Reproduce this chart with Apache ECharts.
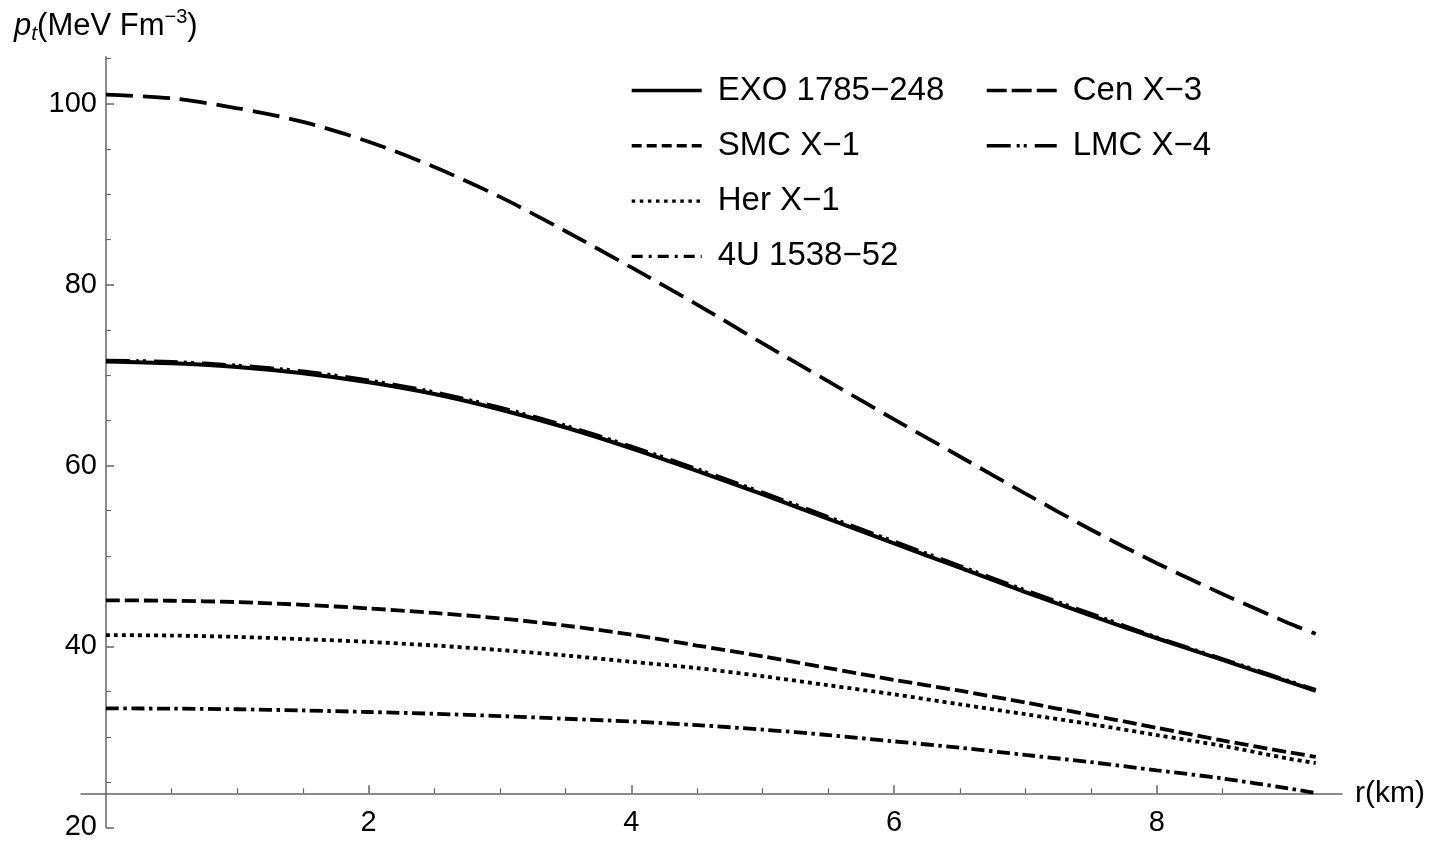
<!DOCTYPE html>
<html>
<head>
<meta charset="utf-8">
<title>p_t vs r</title>
<script src="https://cdn.jsdelivr.net/npm/echarts@6/dist/echarts.min.js"></script>
<style>
  html, body { margin: 0; padding: 0; background: #fff; }
  #main { width: 1439px; height: 848px; }
</style>
</head>
<body>
<div id="main"></div>
<script>
  // radial coordinate r (km)
  const radius = [0, 0.5, 1, 1.5, 2, 2.5, 3, 3.5, 4, 4.5, 5, 5.5, 6, 6.5, 7, 7.5, 8, 8.5, 9, 9.21];

  // transverse pressure p_t (MeV Fm^-3)
  const exo = [71.5, 71.3, 70.9, 70.2, 69.2, 67.9, 66.2, 64.2, 61.9, 59.4, 56.8, 54.1, 51.4, 48.7, 46.0, 43.4, 40.9, 38.5, 36.1, 35.1];
  const cen = [101.0, 100.6, 99.5, 98.0, 95.8, 93.0, 89.7, 85.9, 81.9, 77.8, 73.5, 69.3, 65.1, 61.0, 56.9, 52.9, 49.2, 45.8, 42.6, 41.4];
  const smc = [45.1, 45.05, 44.9, 44.6, 44.2, 43.7, 43.1, 42.3, 41.3, 40.1, 38.9, 37.6, 36.3, 35.1, 33.8, 32.4, 31.0, 29.6, 28.3, 27.8];
  const lmc = [71.6, 71.45, 71.05, 70.4, 69.4, 68.1, 66.4, 64.4, 62.1, 59.6, 57.0, 54.3, 51.6, 48.9, 46.2, 43.6, 41.0, 38.6, 36.2, 35.2];
  const her = [41.25, 41.2, 41.05, 40.8, 40.5, 40.1, 39.6, 39.0, 38.3, 37.6, 36.7, 35.7, 34.7, 33.6, 32.5, 31.4, 30.2, 29.0, 27.6, 27.1];
  const u4 = [33.15, 33.12, 33.05, 32.92, 32.75, 32.55, 32.3, 32.0, 31.7, 31.3, 30.8, 30.2, 29.5, 28.8, 28.0, 27.2, 26.3, 25.4, 24.3, 23.8];

  // ticks
  const xMajor = [2, 4, 6, 8];
  const xMinor = [0.5, 1, 1.5, 2.5, 3, 3.5, 4.5, 5, 5.5, 6.5, 7, 7.5, 8.5];
  const yMajor = [20, 40, 60, 80, 100];
  const yMinor = [25, 30, 35, 45, 50, 55, 65, 70, 75, 85, 90, 95, 105];

  const font = 'Liberation Sans, Arial, sans-serif';
  const axisColor = '#666';

  const pairs = arr => radius.map((r, i) => [r, arr[i]]);

  function line(name, arr, type, width) {
    return {
      name: name,
      type: 'line',
      data: pairs(arr),
      symbol: 'none',
      smooth: 0.3,
      lineStyle: { color: '#000', width: width || 3.8, type: type },
      itemStyle: { color: '#000' }
    };
  }

  // legend samples use their own (shorter) dash patterns, as in the original
  function item(name, type) {
    return { name: name, lineStyle: { width: 3.4, type: type, color: '#000' } };
  }

  const myChart = echarts.init(document.getElementById('main'));

  // x axis sits at p = 23.76, y axis at r = 0
  const xBase = { type: 'value', min: -0.19, max: 9.41, position: 'bottom', offset: -34, splitLine: { show: false } };
  const yBase = { type: 'value', min: 20, max: 105.2, position: 'left', offset: -25, splitLine: { show: false } };

  const legendText = { fontSize: 33, color: '#000', fontFamily: font, padding: [0, 0, 0, 11] };
  const legendBase = {
    orient: 'vertical', top: 74, padding: 0, itemGap: 22.3,
    itemWidth: 70, itemHeight: 14,
    itemStyle: { opacity: 0 },
    lineStyle: { width: 3.4 },
    textStyle: legendText
  };

  myChart.setOption({
    animation: false,
    backgroundColor: '#fff',
    title: {
      text: '{p|p}{sub|t}{n|(MeV Fm}{sup|−3}{n|)}',
      left: 9,
      top: 2,
      textStyle: {
        fontWeight: 'normal',
        rich: {
          p: { fontSize: 31, fontStyle: 'italic', fontWeight: 'normal', fontFamily: font, color: '#000', lineHeight: 38, verticalAlign: 'middle' },
          sub: { fontSize: 21, fontStyle: 'italic', fontWeight: 'normal', fontFamily: font, color: '#000', verticalAlign: 'bottom' },
          n: { fontSize: 31, fontWeight: 'normal', fontFamily: font, color: '#000', lineHeight: 38, verticalAlign: 'middle' },
          sup: { fontSize: 20, fontWeight: 'normal', fontFamily: font, color: '#000', verticalAlign: 'top' }
        }
      }
    },
    legend: [
      Object.assign({}, legendBase, {
        left: 630,
        data: [
          item('EXO 1785−248', 'solid'),
          item('SMC X−1', [10, 5]),
          item('Her X−1', [3.5, 4.6]),
          item('4U 1538−52', [11, 6, 3, 6])
        ]
      }),
      Object.assign({}, legendBase, {
        left: 985,
        data: [
          item('Cen X−3', [20, 5]),
          item('LMC X−4', [24, 6, 3, 4, 3, 8])
        ]
      })
    ],
    grid: { left: 81, right: 97, top: 56.7, bottom: 20.7, outerBoundsMode: 'none' },
    xAxis: [
      Object.assign({}, xBase, {
        axisLine: { onZero: false, lineStyle: { color: axisColor, width: 1.5 } },
        axisTick: { inside: true, length: 8, customValues: xMajor, lineStyle: { color: axisColor, width: 1.5 } },
        axisLabel: { customValues: xMajor, fontSize: 29, color: '#000', fontFamily: font, margin: 15 },
        name: 'r(km)',
        nameLocation: 'end',
        nameGap: 13,
        nameTextStyle: { fontSize: 30, color: '#000', fontFamily: font, verticalAlign: 'middle' }
      }),
      Object.assign({}, xBase, {
        axisLine: { onZero: false, lineStyle: { color: 'rgba(0,0,0,0)' } },
        axisTick: { inside: true, length: 5, customValues: xMinor, lineStyle: { color: axisColor, width: 1.2 } },
        axisLabel: { show: false }
      })
    ],
    yAxis: [
      Object.assign({}, yBase, {
        axisLine: { onZero: false, lineStyle: { color: axisColor, width: 1.5 } },
        axisTick: { inside: true, length: 8, customValues: yMajor, lineStyle: { color: axisColor, width: 1.5 } },
        axisLabel: { customValues: yMajor, fontSize: 29, color: '#000', fontFamily: font, margin: 9 }
      }),
      Object.assign({}, yBase, {
        axisLine: { onZero: false, lineStyle: { color: 'rgba(0,0,0,0)' } },
        axisTick: { inside: true, length: 5, customValues: yMinor, lineStyle: { color: axisColor, width: 1.2 } },
        axisLabel: { show: false }
      })
    ],
    series: [
      line('LMC X−4', lmc, [24, 6, 3, 4, 3, 8]),
      line('EXO 1785−248', exo, 'solid', 4),
      line('Cen X−3', cen, [27, 10]),
      line('SMC X−1', smc, [14, 5]),
      line('Her X−1', her, [4, 4]),
      line('4U 1538−52', u4, [13, 4.5, 3.5, 4.5])
    ]
  });
  window.onresize = myChart.resize;
</script>
</body>
</html>
